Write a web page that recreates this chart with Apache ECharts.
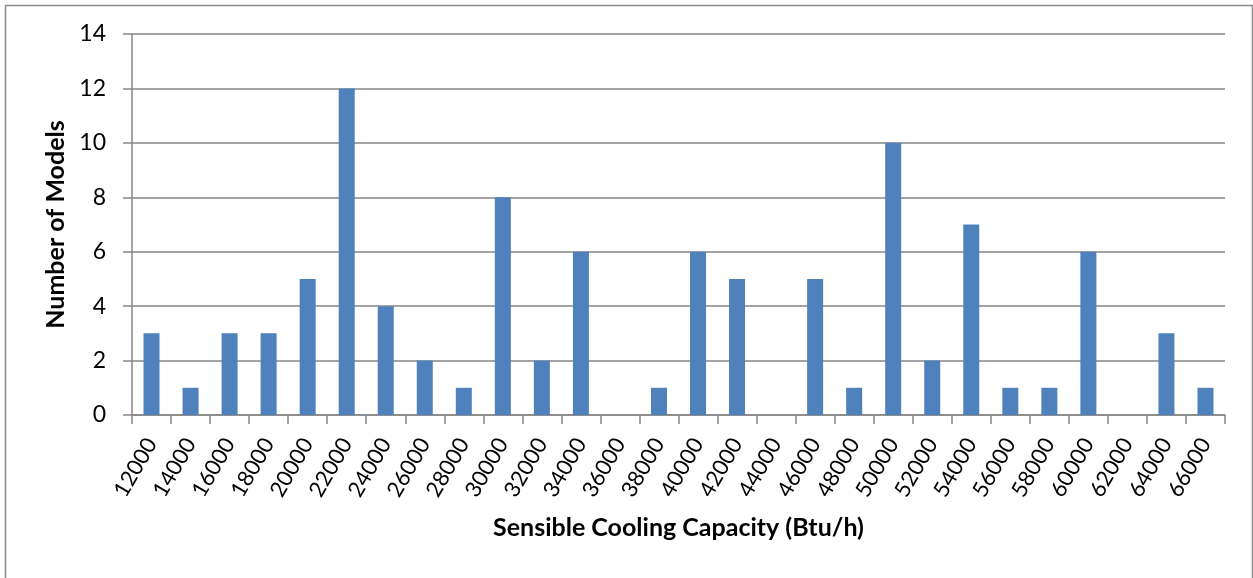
<!DOCTYPE html>
<html>
<head>
<meta charset="utf-8">
<style>
  html, body { margin: 0; padding: 0; background: #ffffff; }
  #chart { width: 1253px; height: 578px; }
</style>
<script src="https://cdn.jsdelivr.net/npm/echarts@6/dist/echarts.min.js"></script>
</head>
<body>
<div id="chart"></div>
<script>
// Capacity bins (Btu/h) and number of models in each bin
const capacityBins = ['12000','14000','16000','18000','20000','22000','24000','26000','28000','30000',
  '32000','34000','36000','38000','40000','42000','44000','46000','48000','50000',
  '52000','54000','56000','58000','60000','62000','64000','66000'];
const modelCounts = [3,1,3,3,5,12,4,2,1,8,2,6,0,1,6,5,0,5,1,10,2,7,1,1,6,0,3,1];

const xTitle = 'Sensible Cooling Capacity (Btu/h)';
const yTitle = 'Number of Models';

const axisGrey = '#868686';
const fontFamily = 'Lato, "Open Sans", sans-serif';

const chart = echarts.init(document.getElementById('chart'), null, { renderer: 'canvas' });

chart.setOption({
  animation: false,
  backgroundColor: '#ffffff',
  graphic: [{
    type: 'rect',
    shape: { x: 5.5, y: 5.5, width: 1247, height: 700 },
    style: { fill: 'none', stroke: '#8c8c8c', lineWidth: 1.5 },
    silent: true
  }],
  grid: { left: 132, right: 28, top: 34, bottom: 163, containLabel: false },
  xAxis: {
    type: 'category',
    data: capacityBins,
    name: xTitle,
    nameLocation: 'middle',
    nameGap: 100,
    nameTextStyle: { fontFamily, fontSize: 25, fontWeight: 'bold', color: '#000' },
    axisLine: { lineStyle: { color: axisGrey, width: 1.5 } },
    axisTick: { show: true, length: 9, lineStyle: { color: axisGrey, width: 1.5 } },
    axisLabel: { rotate: 60, interval: 0, margin: 25, fontFamily, fontSize: 22, color: '#000' },
    splitLine: { show: false }
  },
  yAxis: {
    type: 'value',
    min: 0,
    max: 14,
    interval: 2,
    name: yTitle,
    nameLocation: 'middle',
    nameGap: 63,
    nameRotate: 90,
    nameTextStyle: { fontFamily, fontSize: 25, fontWeight: 'bold', color: '#000' },
    axisLine: { show: true, lineStyle: { color: axisGrey, width: 1.5 } },
    axisTick: { show: true, length: 9, lineStyle: { color: axisGrey, width: 1.5 } },
    axisLabel: { margin: 26, fontFamily, fontSize: 23, color: '#000' },
    splitLine: { show: true, lineStyle: { color: axisGrey, width: 1.5 } }
  },
  series: [{
    type: 'bar',
    data: modelCounts,
    barWidth: 16,
    itemStyle: { color: '#4F81BD' }
  }]
});
</script>
</body>
</html>
